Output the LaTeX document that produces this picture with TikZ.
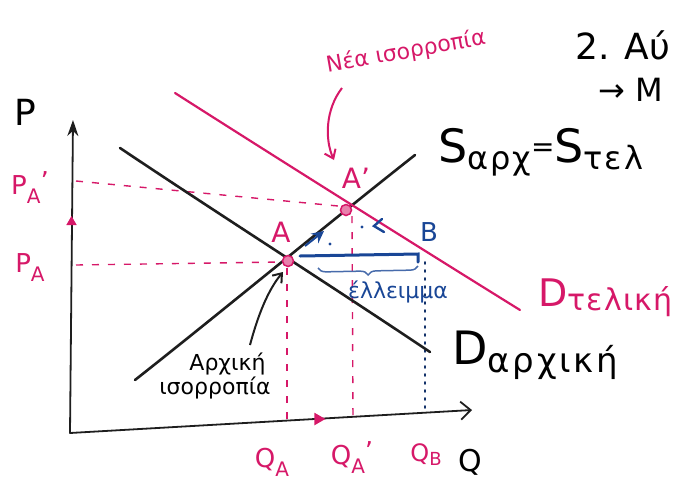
\documentclass[tikz,border=0pt]{standalone}
\usepackage{fontspec}
\setmainfont{DejaVu Sans}
\usetikzlibrary{arrows.meta,decorations.pathreplacing,shapes.geometric}
\definecolor{mag}{RGB}{214,24,104}
\definecolor{pen}{RGB}{30,30,30}
\definecolor{bpen}{RGB}{25,70,150}
\newcommand{\fsz}[1]{\fontsize{#1}{#1}\selectfont}
\newcommand{\spc}[1]{\addfontfeatures{LetterSpace=#1}}
\tikzset{
  curve/.style={line width=2.6pt, line cap=round, pen},
  tcurve/.style={line width=2.2pt, line cap=round, mag},
  guide/.style={mag, line width=1.4pt, dash pattern=on 7pt off 9pt},
  lbl/.style={inner sep=0pt, font=\fsz{26}},
  mlbl/.style={lbl, text=mag},
  eqpt/.style={circle, draw=mag, fill=mag!55, line width=1.5pt, minimum size=11pt, inner sep=0pt},
  axis/.style={line width=1.8pt, pen, line cap=round},
  tri/.style={isosceles triangle, fill=mag, draw=none, inner sep=0pt, isosceles triangle apex angle=60}
}
\begin{document}
\begin{tikzpicture}[x=1pt,y=-1pt]
\useasboundingbox (0,0) rectangle (689,488);
% coordinates
\coordinate (O) at (70,433);
\coordinate (ytop) at (73,120);
\coordinate (xend) at (472,410);
\coordinate (Sa) at (135,380);
\coordinate (Sb) at (415,155);
\coordinate (Da) at (120,148);
\coordinate (Db) at (430,352);
\coordinate (Ta) at (175,93);
\coordinate (Tb) at (520,310);
% axes
\draw[axis, -{Stealth[length=16pt,width=11pt]}] (O) -- (ytop);
\draw[axis, -{Straight Barb[length=10pt,width=18pt,line width=1.8pt]}] (O) -- (xend);
\node[tri, minimum size=9pt, shape border rotate=90] (ty) at (71.5,222) {};
\node[tri, minimum size=11pt] (tx) at (318,419) {};
% guides
\draw[guide] (76,181) -- (338,206);
\draw[guide] (76,265) -- (282,262);
\draw[guide] (287,268) -- (287,424);
\draw[guide] (352,216) -- (353,420);
\draw[line width=1.6pt, bpen!70!black, dash pattern=on 2pt off 6pt, line cap=round] (425,262) -- (425,412);
% curves
\draw[curve] (Sa) .. controls (220,313) and (330,222) .. (Sb);
\draw[curve] (Da) .. controls (220,215) and (330,285) .. (Db);
\draw[tcurve] (Ta) .. controls (280,160) and (420,248) .. (Tb);
% deficit line and brace
\draw[line width=3pt, bpen, line cap=round] (300,256) -- (418,254) -- (418,262);
\draw[line width=1.5pt, bpen!80, decorate, decoration={brace, mirror, amplitude=8pt}] (318,268) -- (418,266);
% equilibrium points
\node[eqpt] (A) at (288,261) {};
\node[eqpt] (Ap) at (346,210) {};
% blue direction arrows
\draw[bpen, line width=2pt, -{Stealth[length=12pt,width=12pt]}] (305,246) -- (324,231);
\draw[bpen, line width=2.4pt, line cap=round] (382,219) -- (374,226) -- (384,232);
\fill[bpen] (330,244) circle (1.6pt);
\fill[bpen] (362,227) circle (1.6pt);
% labels
\node[lbl, font=\fsz{36}] (P) at (25,112) {P};
\node[mlbl] (PAp) at (30,188) {P\raisebox{-9pt}{\fsz{20}A}\raisebox{4pt}{'}};
\node[mlbl] (PA) at (30,268) {P\raisebox{-9pt}{\fsz{20}A}};
\node[mlbl] (QA) at (272,462) {Q\raisebox{-9pt}{\fsz{20}A}};
\node[mlbl] (QAp) at (352,458) {Q\raisebox{-9pt}{\fsz{20}A}\raisebox{4pt}{'}};
\node[mlbl, font=\fsz{24}] (QB) at (426,455) {Q\raisebox{-4pt}{\fsz{18}B}};
\node[lbl, font=\fsz{30}] (Q) at (470,462) {Q};
\node[mlbl, font=\fsz{28}] (Al) at (281,232) {A};
\node[mlbl, font=\fsz{28}] (Apl) at (356,178) {A'};
\node[lbl, text=bpen, font=\fsz{26}] (Bl) at (429,232) {B};
\node[lbl, text=bpen, font=\fsz{22}] (ell) at (398,292) {έλλειμμα};
\node[lbl, anchor=west] (Sl) at (438,152) {\fsz{46}S\raisebox{-7pt}{\fsz{32}\spc{6}αρχ}\raisebox{6pt}{\fsz{28}=}\fsz{46}S\raisebox{-7pt}{\fsz{32}\spc{6}τελ}};
\node[lbl, anchor=west] (Dl) at (452,355) {\fsz{46}D\raisebox{-8pt}{\fsz{34}\spc{8}αρχική}};
\node[lbl, anchor=west, text=mag] (Tl) at (538,298) {\fsz{38}D\raisebox{-4pt}{\fsz{30}\spc{4}τελική}};
\node[mlbl, font=\fsz{22}, rotate=10] (new) at (406,52) {Νέα ισορροπία};
\node[lbl, font=\fsz{22}, align=center] (old) at (215,376) {\hspace*{25pt}Αρχική\\ισορροπία};
\node[lbl, font=\fsz{36}, anchor=west] (n2) at (575,45) {2. Αύ};
\node[lbl, font=\fsz{32}, anchor=west] (nM) at (598,90) {→ Μ};
% annotation arrows
\draw[mag, line width=2pt, -{Straight Barb[length=8pt,width=12pt,line width=2pt]}] (342,88) .. controls (325,110) and (325,140) .. (334,160);
\draw[pen, line width=2pt, -{Straight Barb[length=8pt,width=12pt,line width=2pt]}] (250,345) .. controls (258,315) and (268,290) .. (283,272);
\end{tikzpicture}
\end{document}
